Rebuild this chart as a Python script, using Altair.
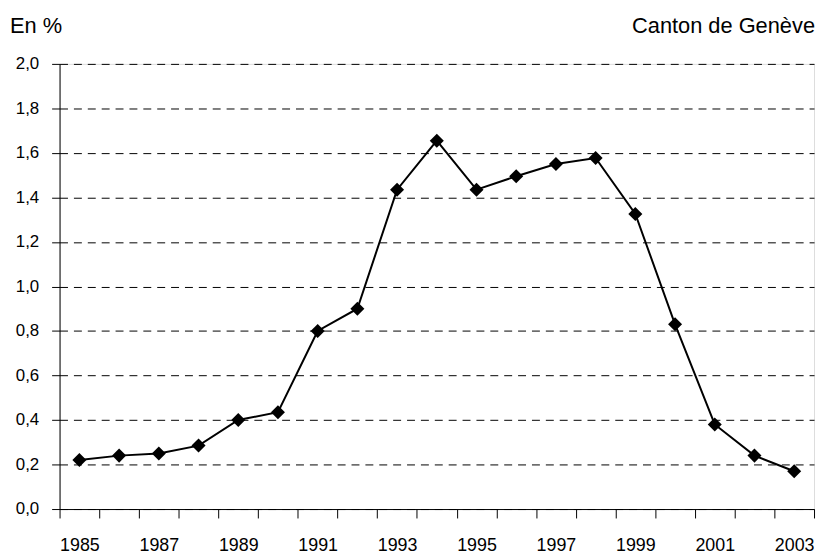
import altair as alt
import pandas as pd

years = list(range(1985, 2004))
values = [0.22, 0.24, 0.25, 0.285, 0.40, 0.435, 0.80, 0.90, 1.435, 1.655,
          1.435, 1.495, 1.55, 1.577, 1.326, 0.83, 0.38, 0.24, 0.17]
y_ticks = [0.0, 0.2, 0.4, 0.6, 0.8, 1.0, 1.2, 1.4, 1.6, 1.8, 2.0]
x_ticks = [y - 0.5 for y in range(1985, 2005)]
unit_label = "En %"
region_label = "Canton de Genève"

df = pd.DataFrame({"year": years, "value": values})

W, H = 761, 449
band = W / len(years)

x = alt.X(
    "year:Q",
    scale=alt.Scale(domain=[1984.5, 2003.5], nice=False, zero=False),
    axis=alt.Axis(
        values=x_ticks, title=None, grid=False,
        tickSize=9, tickColor="black", domainColor="black",
        labelExpr="datum.value % 2 == 0.5 ? toString(datum.value + 0.5) : ''",
        labelOffset=band / 2, labelOverlap=False, labelFlush=False, labelBound=False,
        labelPadding=19, labelFont="Liberation Sans", labelFontSize=18,
        labelColor="black",
    ),
)
y = alt.Y(
    "value:Q",
    scale=alt.Scale(domain=[0, 2], nice=False),
    axis=alt.Axis(
        values=y_ticks, title=None, grid=True, gridColor="black", gridDash=[8, 6],
        gridWidth=1, tickSize=8, tickColor="black", domainColor="black",
        labelExpr="replace(format(datum.value, '.1f'), '.', ',')",
        labelPadding=13, labelFont="Liberation Sans", labelFontSize=17,
        labelColor="black",
    ),
)

base = alt.Chart(df)
line = base.mark_line(color="black", strokeWidth=2).encode(x=x, y=y)
pts = base.mark_point(shape="diamond", filled=True, color="black", size=200, opacity=1).encode(x=x, y=y)

t1 = alt.Chart(pd.DataFrame({"t": [unit_label]})).mark_text(
    align="left", baseline="alphabetic", font="Liberation Sans", fontSize=22, color="black"
).encode(text="t:N", x=alt.value(-50), y=alt.value(-31))
t2 = alt.Chart(pd.DataFrame({"t": [region_label]})).mark_text(
    align="right", baseline="alphabetic", font="Liberation Sans", fontSize=22, color="black"
).encode(text="t:N", x=alt.value(W + 1), y=alt.value(-31))

chart = alt.layer(line, pts, t1, t2).properties(
    width=W, height=H, autosize="none",
    padding={"left": 52, "top": 54, "right": 4, "bottom": 46},
).configure_view(fill="#C0C0C0", stroke="#404040", strokeWidth=1
).configure(background="white")

chart.save("out.html", embed_options={"renderer": "svg", "actions": False})
